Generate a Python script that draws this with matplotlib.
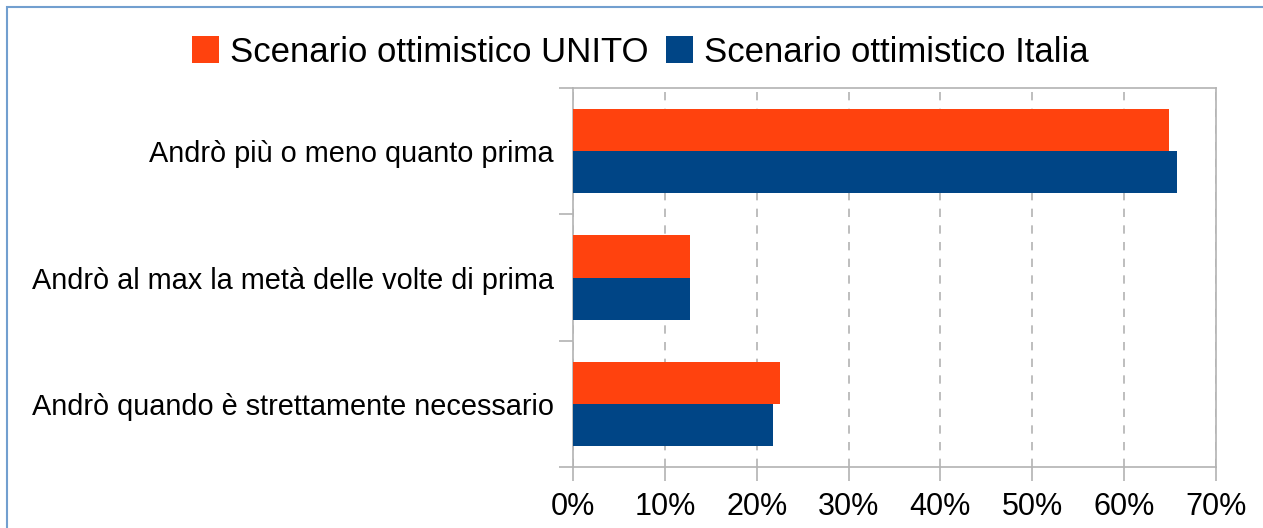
import matplotlib.pyplot as plt
from matplotlib.patches import Rectangle
from matplotlib.ticker import PercentFormatter

# dati
categorie = ["Andrò più o meno quanto prima",
             "Andrò al max la metà delle volte di prima",
             "Andrò quando è strettamente necessario"]
unito = [64.9, 12.7, 22.5]
italia = [65.7, 12.7, 21.8]
serie = ["Scenario ottimistico UNITO", "Scenario ottimistico Italia"]

plt.rcParams['font.family'] = ['Liberation Sans', 'DejaVu Sans']

fig = plt.figure(figsize=(12.63, 5.28), dpi=100)
ax = fig.add_axes([573/1263, 1 - 467/528, (1216 - 573)/1263, (467 - 88)/528])

# bordo esterno azzurro
fig.patches.append(Rectangle((7/1263, -0.1), 1.2, 1 - 7/528 + 0.1, transform=fig.transFigure,
                             fill=False, edgecolor='#729fcf', linewidth=1.5))

pos = list(range(len(categorie)))
h = 1/3
ax.barh([p - h/2 for p in pos], unito, height=h, color='#ff420e', label=serie[0], zorder=3)
ax.barh([p + h/2 for p in pos], italia, height=h, color='#004586', label=serie[1], zorder=3)

ax.set_xlim(0, 70)
ax.set_ylim(2.5, -0.5)
ax.set_xticks(range(0, 71, 10))
ax.xaxis.set_major_formatter(PercentFormatter(decimals=0))
ax.set_yticks(pos)
ax.set_yticklabels(categorie, fontsize=20.8)
ax.tick_params(axis='y', length=0, pad=14)
ax.set_yticks([-0.5, 0.5, 1.5, 2.5], minor=True)
ax.tick_params(axis='y', which='minor', length=10, color='#b3b3b3', width=1.2)
ax.tick_params(axis='x', length=10, color='#b3b3b3', width=1.2, labelsize=22, pad=8)
ax.grid(axis='x', color='#b3b3b3', linestyle=(0, (5, 5)), linewidth=1.2, zorder=0)
for s in ax.spines.values():
    s.set_color('#b3b3b3')
    s.set_linewidth(1.2)

fig.legend(loc='center', bbox_to_anchor=(640/1263, 1 - 52/528), ncol=2, frameon=False,
           fontsize=25, handlelength=0.8, handleheight=0.8, handletextpad=0.3, columnspacing=0.5)

fig.savefig('out.png', dpi=100)
